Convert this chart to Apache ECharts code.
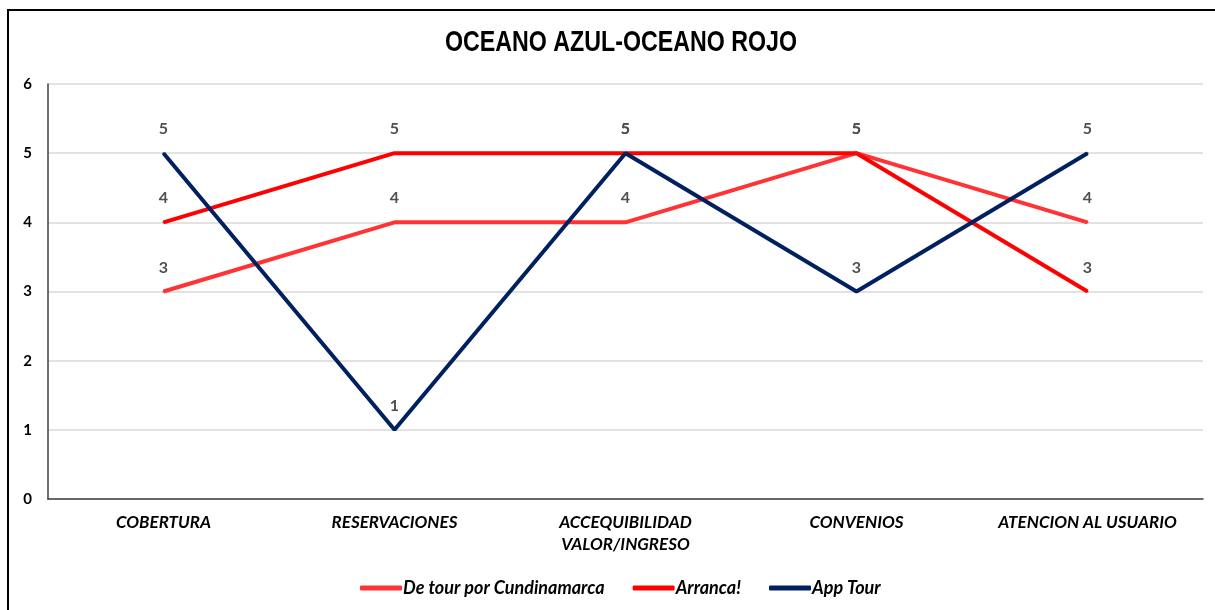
<!DOCTYPE html>
<html>
<head>
<meta charset="utf-8">
<script src="https://cdn.jsdelivr.net/npm/echarts@6/dist/echarts.min.js"></script>
<style>
  html, body { margin: 0; padding: 0; background: #fff; }
  #chart { width: 1215px; height: 610px; }
</style>
</head>
<body>
<div id="chart"></div>
<script>
// categorías del eje X
var categorias = ['COBERTURA', 'RESERVACIONES', 'ACCEQUIBILIDAD\nVALOR/INGRESO', 'CONVENIOS', 'ATENCION AL USUARIO'];

// valores de cada serie
var deTour = [3, 4, 4, 5, 4];      // De tour por Cundinamarca
var arranca = [4, 5, 5, 5, 3];     // Arranca!
var appTour = [5, 1, 5, 3, 5];     // App Tour

var nombres = ['De tour por Cundinamarca', 'Arranca!', 'App Tour'];
var colores = ['#FF3333', '#FF0000', '#002060'];

function serie(nombre, datos, color) {
    return {
        name: nombre,
        type: 'line',
        data: datos,
        symbol: 'circle',
        symbolSize: 2,
        lineStyle: { width: 4, color: color },
        itemStyle: { color: color },
        label: {
            show: true,
            position: 'top',
            distance: 15,
            color: '#505050',
            fontFamily: 'Lato',
            fontWeight: 'bold',
            fontSize: 16
        },
        emphasis: { disabled: true }
    };
}

var chart = echarts.init(document.getElementById('chart'));

chart.setOption({
    animation: false,
    graphic: [{
        // marco del gráfico
        type: 'polyline',
        shape: { points: [[8, 610], [8, 10], [1215, 10]] },
        style: { stroke: '#000', lineWidth: 2, fill: null }
    }, {
        // título (fuente estrecha simulada con scaleX)
        type: 'text',
        x: 621,
        y: 43,
        scaleX: 0.774,
        style: {
            text: 'OCEANO AZUL-OCEANO ROJO',
            fontFamily: 'Liberation Sans',
            fontWeight: 'bold',
            fontSize: 30,
            fill: '#000',
            align: 'center',
            verticalAlign: 'middle'
        }
    }],
    grid: { left: 48, right: 12, top: 84, bottom: 111 },
    legend: {
        left: 355,
        top: 574,
        itemGap: 28,
        itemWidth: 42,
        itemHeight: 5,
        icon: 'roundRect',
        data: nombres,
        textStyle: {
            fontFamily: 'Lato',
            fontStyle: 'italic',
            fontWeight: 'bold',
            fontSize: 18,
            color: '#000',
            padding: [0, 0, 0, -4]
        }
    },
    xAxis: {
        type: 'category',
        data: categorias,
        boundaryGap: true,
        axisLine: { lineStyle: { color: '#404040', width: 1.5 } },
        axisTick: { show: false },
        axisLabel: {
            margin: 13,
            interval: 0,
            fontFamily: 'Lato',
            fontStyle: 'italic',
            fontWeight: 'bold',
            fontSize: 17,
            lineHeight: 22,
            color: '#000'
        }
    },
    yAxis: {
        type: 'value',
        min: 0,
        max: 6,
        interval: 1,
        axisLine: { show: true, lineStyle: { color: '#404040', width: 1.5 } },
        axisTick: { show: false },
        splitLine: { lineStyle: { color: '#D9D9D9', width: 1.5 } },
        axisLabel: {
            margin: 16,
            fontFamily: 'Lato',
            fontWeight: 'bold',
            fontSize: 15,
            color: '#000'
        }
    },
    series: [
        serie(nombres[0], deTour, colores[0]),
        serie(nombres[1], arranca, colores[1]),
        serie(nombres[2], appTour, colores[2])
    ]
});
</script>
</body>
</html>
